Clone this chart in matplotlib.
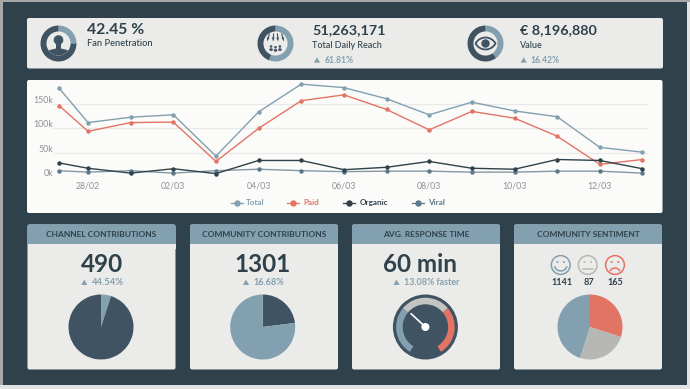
import numpy as np
import matplotlib
matplotlib.use('Agg')
import matplotlib.pyplot as plt
from matplotlib.patches import Rectangle, FancyBboxPatch, Circle, Wedge, Arc, Polygon, Ellipse, PathPatch
from matplotlib.path import Path
from matplotlib.transforms import ScaledTranslation

plt.rcParams['font.family'] = ['Lato', 'DejaVu Sans']

DARK = '#2f424b'
SLATE = '#3f5362'
BLUE = '#83a0b0'
RED = '#e27465'
GREY = '#b7b8b5'
PANEL = '#ebebea'
CHART_BG = '#fbfbf9'
LABEL = '#2f424b'

W, H = 690, 389

# line chart data, in thousands (x is day offset from 28/02)
days = [-0.68, 0, 1, 2, 3, 4, 5, 6, 7, 8, 9, 10, 11, 12, 13]
total = [183, 112, 123, 128, 43, 134, 191, 184, 161, 128, 154, 136, 124, 61, 51]
paid = [147, 94, 112, 113, 32, 100, 157, 169, 139, 97, 135, 121, 84, 26, 36]
organic = [29, 18, 8, 17, 7, 34, 34, 15, 20, 32, 18, 16, 36, 34, 17]
viral = [13, 10, 13, 8, 13, 16, 13, 11, 12, 12, 10, 10, 12, 12, 8]
tick_days = [0, 2, 4, 6, 8, 10, 12]
tick_dates = ['28/02', '02/03', '04/03', '06/03', '08/03', '10/03', '12/03']
y_ticks = [0, 50, 100, 150]
y_labels = ['0k', '50k', '100k', '150k']

# donuts in the top row (light part, dark part)
donut_fan = [25, 75]
donut_reach = [56, 44]
donut_value = [40, 60]

# bottom pies
channel_pie = [5, 95]
community_pie = [23, 77]
sentiment_pie = [30, 25, 45]
sentiment_counts = ['1141', '87', '165']

fig = plt.figure(figsize=(W / 100, H / 100), dpi=100, facecolor='#e2e2e2')
bg = fig.add_axes([0, 0, 1, 1])
bg.set_xlim(0, W)
bg.set_ylim(H, 0)
bg.axis('off')


def px_axes(x0, y0, x1, y1, zorder=3):
    a = fig.add_axes([x0 / W, 1 - y1 / H, (x1 - x0) / W, (y1 - y0) / H], zorder=zorder)
    return a


def panel(x0, y0, x1, y1, color=PANEL, r=2):
    bg.add_patch(FancyBboxPatch((x0 + r, y0 + r), x1 - x0 - 2 * r, y1 - y0 - 2 * r,
                                boxstyle=f'round,pad={r},rounding_size={r}',
                                fc=color, ec='none', zorder=1))


def triangle(cx, cy, s=3.1):
    bg.add_patch(Polygon([(cx - s, cy + s * 0.85), (cx + s, cy + s * 0.85), (cx, cy - s * 0.85)],
                         fc=BLUE, ec='none', zorder=4))


def delta(x, y, txt, size=6.2):
    bg.text(x, y, txt, color=BLUE, fontsize=size, fontweight='bold', ha='left', va='center', zorder=4)


def donut(cx, cy, vals, r=18):
    a = px_axes(cx - r, cy - r, cx + r, cy + r)
    a.pie(vals, colors=[BLUE, SLATE], startangle=90, counterclock=False, radius=1,
          wedgeprops={'width': 0.33, 'linewidth': 0})
    a.set_xlim(-1, 1)
    a.set_ylim(-1, 1)


# outer strips and dark background
bg.add_patch(Rectangle((0, 0), W, 2, fc='#a8a8a8', ec='none', zorder=0))
bg.add_patch(Rectangle((0, 0), 2.5, 385, fc='#a8a8a8', ec='none', zorder=0))
bg.add_patch(Rectangle((2.5, 2), 684.5, 383, fc=DARK, ec='none', zorder=0))

# KPI strip
panel(27, 18, 663, 68.5)
donut(58.5, 43.5, donut_fan)
donut(275.5, 43.5, donut_reach)
donut(485.5, 43.5, donut_value)

bg.text(87, 30, '42.45 %', color=LABEL, fontsize=11.3, fontweight='bold', va='center', zorder=4)
bg.text(87, 43.3, 'Fan Penetration', color=LABEL, fontsize=6.7, fontweight='medium', va='center', zorder=4)
bg.text(312, 30, '51,263,171', color=LABEL, fontsize=10.4, fontweight='bold', va='center', zorder=4)
bg.text(312, 45, 'Total Daily Reach', color=LABEL, fontsize=6.5, fontweight='medium', va='center', zorder=4)
triangle(317, 60)
delta(325, 60, '61.81%')
bg.text(520, 30, '€ 8,196,880', color=LABEL, fontsize=10.4, fontweight='bold', va='center', zorder=4)
bg.text(520, 45, 'Value', color=LABEL, fontsize=6.5, fontweight='medium', va='center', zorder=4)
triangle(523.7, 60)
delta(530, 60, '16.42%')

# person icon, clipped to the inner disc
clip = Circle((58.5, 43.5), 12, transform=bg.transData)
bg.add_patch(Circle((58.5, 40), 4.8, fc=SLATE, ec='none', zorder=5))
bg.add_patch(Rectangle((56, 43), 5, 6, fc=SLATE, ec='none', zorder=5))
body = Ellipse((58.5, 57), 30, 17, fc=SLATE, ec='none', zorder=5)
bg.add_patch(body)
body.set_clip_path(clip)

# crowd icon
for dx, dy in [(-4.4, 0), (4.4, 0), (0, 0.8)]:
    bg.add_patch(Circle((275.5 + dx, 46.5 + dy), 1.3, fc=SLATE, ec='none', zorder=5))
    bg.add_patch(Ellipse((275.5 + dx, 49.6 + dy), 3.6, 2.8, fc=SLATE, ec='none', zorder=5))
for x0, x1 in [(269.3, 267.2), (273.6, 273), (277.4, 278), (281.7, 283.8)]:
    bg.plot([x0, (x0 + x1) / 2], [34, 37.5], color=SLATE, lw=0.8, zorder=5)
    bg.add_patch(Polygon([(x1, 41.5), ((x0 + x1) / 2 - 1.4, 37.5), ((x0 + x1) / 2 + 1.4, 37.5)],
                         fc=SLATE, ec='none', zorder=5))

# eye icon
eye = Path([(475.5, 43.5), (480, 35.5), (491, 35.5), (495.5, 43.5), (491, 51.5), (480, 51.5), (475.5, 43.5)],
           [Path.MOVETO, Path.CURVE4, Path.CURVE4, Path.CURVE4, Path.CURVE4, Path.CURVE4, Path.CURVE4])
bg.add_patch(PathPatch(eye, fc='none', ec=SLATE, lw=1.3, zorder=5))
bg.add_patch(Circle((485.5, 43.5), 4.2, fc=SLATE, ec='none', zorder=5))

# line chart
panel(27, 80, 662.5, 213, color=CHART_BG)
ax = px_axes(53, 82, 648, 177)
px_per_day = 42.65
ax.set_xlim((53 - 88) / px_per_day, (648 - 88) / px_per_day)
ax.set_ylim(0, (177 - 82) / 24.3 * 50)
ax.patch.set_alpha(0)
for s in ax.spines.values():
    s.set_visible(False)
ax.set_yticks(y_ticks)
ax.set_yticklabels(y_labels)
ax.set_xticks(tick_days)
ax.set_xticklabels(tick_dates)
ax.tick_params(length=0, labelsize=6.3, colors='#8d9292', pad=0)
ax.tick_params(axis='x', pad=3.5)
shift = ScaledTranslation(0, -1 / 100, fig.dpi_scale_trans)
for lab in ax.get_yticklabels():
    lab.set_va('bottom')
    lab.set_transform(lab.get_transform() + shift)
ax.grid(axis='y', color='#e9e9e7', lw=0.9)
ax.set_axisbelow(True)
series = [(total, BLUE, 'Total'), (paid, RED, 'Paid'), (organic, DARK, 'Organic'), (viral, '#5d7888', 'Viral')]
for vals, col, name in [series[3], series[0], series[1], series[2]]:
    line_col = '#8399a6' if name == 'Viral' else col
    ax.plot(days, vals, color=line_col, lw=1.0, marker='o', ms=3.2, mew=0, mfc=col, clip_on=False, zorder=3)

# legend drawn by hand to keep the spacing
for (vals, col, name), lx, tx in zip(series, [236.7, 293.3, 349.3, 418], [246, 303.7, 360, 428.3]):
    bg.plot([lx - 6, lx + 6], [202.5, 202.5], color=col, lw=0.9, zorder=4)
    bg.plot([lx], [202.5], marker='o', ms=4.6, mew=0, color=col, zorder=4)
    bg.text(tx, 202.5, name, color=col, fontsize=5.9, fontweight='bold', va='center', zorder=4)

# bottom cards
cards = [(27.5, 175.5, 'CHANNEL CONTRIBUTIONS'), (190, 338, 'COMMUNITY CONTRIBUTIONS'),
         (352, 500, 'AVG. RESPONSE TIME'), (514, 662, 'COMMUNITY SENTIMENT')]
for x0, x1, title in cards:
    panel(x0, 224.5, x1, 369.5)
    bg.add_patch(FancyBboxPatch((x0 + 2, 226.5), x1 - x0 - 4, 20, boxstyle='round,pad=2,rounding_size=2',
                                fc=BLUE, ec='none', zorder=2))
    bg.add_patch(Rectangle((x0, 240), x1 - x0, 4.3, fc=BLUE, ec='none', zorder=2))
    bg.add_patch(Rectangle((x0, 244.3), x1 - x0, 5, fc=PANEL, ec='none', zorder=2))
    bg.text((x0 + x1) / 2, 234.6, title, color=LABEL, fontsize=6.0, fontweight='bold',
            ha='center', va='center', zorder=4)

bg.text(101.5, 264, '490', color=LABEL, fontsize=17.5, fontweight='bold', ha='center', va='center', zorder=4)
triangle(84.3, 282.3)
delta(91.5, 282.3, '44.54%', size=6.8)
bg.text(263, 264, '1301', color=LABEL, fontsize=17.5, fontweight='bold', ha='center', va='center', zorder=4)
triangle(246, 282.3)
delta(253.5, 282.3, '16.68%', size=6.6)
bg.text(420, 264, '60 min', color=LABEL, fontsize=17.5, fontweight='bold', ha='center', va='center', zorder=4)
triangle(396.5, 282.3)
delta(403.5, 282.3, '13.08% faster', size=6.4)

R = 32.5
a1 = px_axes(101 - R, 327 - R, 101 + R, 327 + R)
a1.pie(channel_pie, colors=[BLUE, SLATE], startangle=90, counterclock=False, radius=1, wedgeprops={'linewidth': 0})
a1.set_xlim(-1, 1)
a1.set_ylim(-1, 1)
a2 = px_axes(262.7 - R, 327 - R, 262.7 + R, 327 + R)
a2.pie(community_pie, colors=[SLATE, BLUE], startangle=90, counterclock=False, radius=1, wedgeprops={'linewidth': 0})
a2.set_xlim(-1, 1)
a2.set_ylim(-1, 1)
a4 = px_axes(590 - R, 327 - R, 590 + R, 327 + R)
a4.pie(sentiment_pie, colors=[RED, GREY, BLUE], startangle=90, counterclock=False, radius=1, wedgeprops={'linewidth': 0})
a4.set_xlim(-1, 1)
a4.set_ylim(-1, 1)

# gauge, y axis is flipped in bg so angles run clockwise from +x
gx, gy = 425.4, 327
bg.add_patch(Circle((gx, gy), 32.5, fc=SLATE, ec='none', zorder=3))
bg.add_patch(Wedge((gx, gy), 29.3, 122, 220, width=6.6, fc=BLUE, ec='none', zorder=4))
bg.add_patch(Wedge((gx, gy), 29.3, 220, 320, width=6.6, fc='#c3c5c2', ec='none', zorder=4))
bg.add_patch(Wedge((gx, gy), 29.3, 320, 418, width=6.6, fc=RED, ec='none', zorder=4))
bg.plot([gx, gx - 14.3], [gy, gy - 13.3], color='white', lw=1.2, solid_capstyle='round', zorder=5)
bg.add_patch(Circle((gx, gy), 4, fc='white', ec='none', zorder=5))

# smileys
faces = [(560.7, BLUE), (587.7, GREY), (615, RED)]
count_x = [561.5, 589, 615]
for (fx, col), count, cx in zip(faces, sentiment_counts, count_x):
    bg.add_patch(Circle((fx, 265), 9.4, fc='none', ec=col, lw=1.1, zorder=4))
    bg.add_patch(Circle((fx - 3.3, 262), 1, fc=col, ec='none', zorder=4))
    bg.add_patch(Circle((fx + 3.3, 262), 1, fc=col, ec='none', zorder=4))
    bg.text(cx, 282.8, count, color=LABEL, fontsize=6.6, fontweight='bold',
            ha='center', va='center', zorder=4)
bg.add_patch(Arc((560.7, 264.5), 13, 13, theta1=15, theta2=165, color=BLUE, lw=1.1, zorder=4))
bg.plot([583, 592.5], [269.3, 269.3], color=GREY, lw=1.1, zorder=4)
bg.add_patch(Arc((615, 273.5), 11, 11, theta1=205, theta2=335, color=RED, lw=1.1, zorder=4))

bg.set_xlim(0, W)
bg.set_ylim(H, 0)
fig.savefig('out.png', dpi=100, facecolor=fig.get_facecolor())
